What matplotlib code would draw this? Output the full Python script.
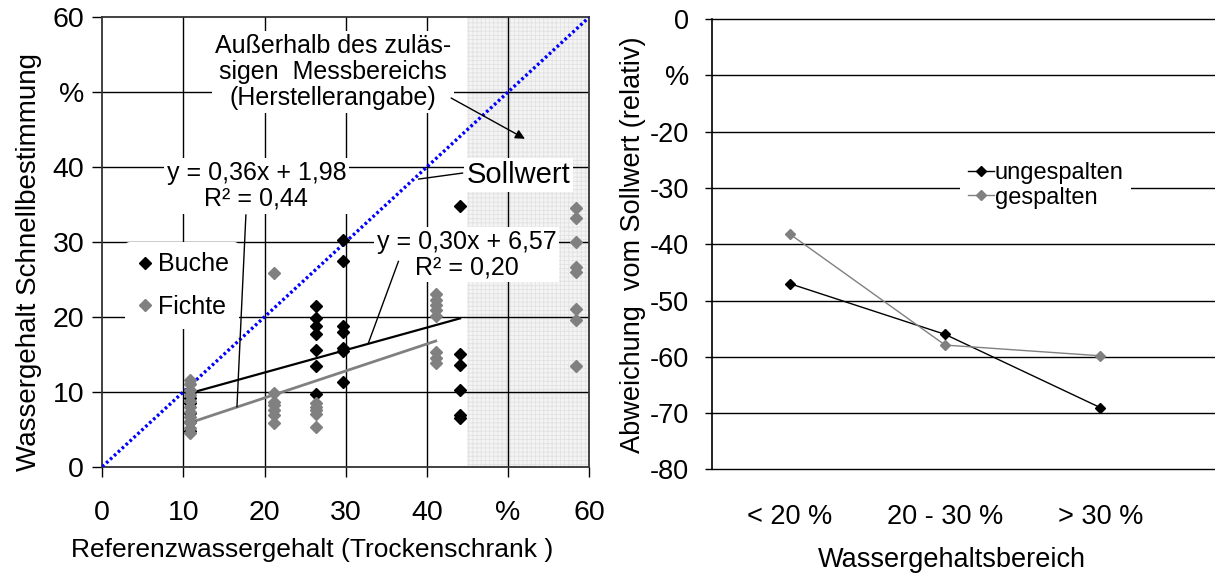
import matplotlib
matplotlib.use("Agg")
import matplotlib.pyplot as plt
from matplotlib.patches import Rectangle
import numpy as np

plt.rcParams['font.family'] = ['Liberation Sans', 'DejaVu Sans']
plt.rcParams['hatch.linewidth'] = 0.6

# left chart: Buche / Fichte, reference vs. quick measurement (%)
buche_x = [10.8] * 6 + [26.4] * 7 + [29.7] * 7 + [44.1] * 6
buche_y = [10.0, 9.2, 8.5, 7.1, 5.9, 4.8,
           21.5, 19.8, 18.8, 17.7, 15.6, 13.4, 9.7,
           30.2, 27.4, 18.8, 18.0, 15.9, 15.4, 11.3,
           34.8, 15.0, 13.6, 10.2, 6.9, 6.5]
fichte_x = [10.8] * 11 + [21.2] * 7 + [26.4] * 5 + [41.1] * 8 + [58.4] * 8
fichte_y = [11.6, 11.0, 10.3, 9.6, 8.8, 8.0, 7.3, 6.6, 5.9, 5.2, 4.5,
            25.9, 9.8, 8.7, 8.2, 7.6, 6.9, 5.8,
            8.5, 8.0, 7.6, 7.0, 5.3,
            23.1, 22.3, 21.6, 20.9, 20.1, 15.3, 14.5, 13.8,
            34.5, 33.2, 30.0, 26.7, 26.0, 21.1, 19.6, 13.4]
buche_fit = (0.30, 6.57)
fichte_fit = (0.36, 1.98)
messgrenze = 45  # upper end of the permitted measuring range
left_ticks = [0, 10, 20, 30, 40, 50, 60]
left_ticklabels = ['0', '10', '20', '30', '40', '%', '60']

# right chart: relative deviation from target value
bereiche = ['< 20 %', '20 - 30 %', '> 30 %']
ungespalten = [-47.0, -56.0, -69.0]
gespalten = [-38.2, -57.9, -59.8]
right_ticks = [0, -10, -20, -30, -40, -50, -60, -70, -80]
right_ticklabels = ['0', '%', '-20', '-30', '-40', '-50', '-60', '-70', '-80']

grau = '#808080'

fig = plt.figure(figsize=(12.15, 5.76), dpi=100)

# ---------------- left
ax = fig.add_axes([0.0842, 0.1898, 0.4006, 0.7802])
ax.set_xlim(0, 60)
ax.set_ylim(0, 60)
ax.add_patch(Rectangle((messgrenze, 0), 60 - messgrenze, 60, facecolor='#f4f4f4',
                       edgecolor='#e2e2e2', hatch='++++', lw=0, zorder=0))
for v in left_ticks[1:-1]:
    ax.axvline(v, color='black', lw=1, zorder=1)
    ax.axhline(v, color='black', lw=1, zorder=1)

ax.plot([0, 60], [0, 60], color='#0000ff', lw=2.4, linestyle=(0, (0.8, 0.8)), zorder=3)

bx = np.array([min(buche_x), max(x for x in buche_x if x < messgrenze)])
ax.plot(bx, buche_fit[0] * bx + buche_fit[1], color='black', lw=1.6, zorder=3)
fx = np.array([min(fichte_x), max(x for x in fichte_x if x < messgrenze)])
ax.plot(fx, fichte_fit[0] * fx + fichte_fit[1], color=grau, lw=2, zorder=3)

ax.plot(buche_x, buche_y, 'D', color='black', ms=6, ls='none', label='Buche', zorder=4)
ax.plot(fichte_x, fichte_y, 'D', color=grau, ms=6, ls='none', label='Fichte', zorder=4)

box = dict(facecolor='white', edgecolor='none', pad=2)
ax.text(28.4, 52.7, 'Außerhalb des zuläs-\nsigen  Messbereichs\n(Herstellerangabe)',
        ha='center', va='center', fontsize=18, linespacing=1.12, bbox=box, zorder=5)
ax.annotate('', xy=(52.4, 43.6), xytext=(42.7, 49.4),
            arrowprops=dict(arrowstyle='-|>', color='black', lw=1, mutation_scale=14), zorder=5)

ax.text(51.3, 38.9, 'Sollwert', ha='center', va='center', fontsize=21, bbox=box, zorder=5)
ax.plot([44.4, 39.0], [39.2, 38.4], color='black', lw=1, zorder=5)

ax.text(19.0, 37.5, 'y = 0,36x + 1,98\nR² = 0,44', ha='center', va='center',
        fontsize=18, linespacing=1.1, bbox=box, zorder=5)
ax.plot([17.7, 16.6], [33.6, 8.0], color='black', lw=1, zorder=5)

ax.text(44.9, 28.3, 'y = 0,30x + 6,57\nR² = 0,20', ha='center', va='center',
        fontsize=18, linespacing=1.1, bbox=box, zorder=5)
ax.plot([36.5, 32.8], [27.4, 16.5], color='black', lw=1, zorder=5)

leg = ax.legend(loc='upper left', bbox_to_anchor=(0.02, 0.527), fontsize=18,
                frameon=True, facecolor='white', edgecolor='none', framealpha=1,
                handlelength=0.8, handletextpad=0.15, labelspacing=0.75, borderpad=0.4)
leg.set_zorder(6)

ax.set_xticks(left_ticks)
ax.set_xticklabels(left_ticklabels)
ax.set_yticks(left_ticks)
ax.set_yticklabels(left_ticklabels)
ax.tick_params(axis='x', direction='out', length=7, width=1, labelsize=20.5, pad=17)
ax.tick_params(axis='y', direction='out', length=7, width=1, labelsize=20.5, pad=6)
for s in ax.spines.values():
    s.set_color('#333333')
    s.set_linewidth(1.3)
ax.set_xlabel('Referenzwassergehalt (Trockenschrank )', fontsize=19)
ax.xaxis.set_label_coords(0.431, -0.159)
ax.set_ylabel('Wassergehalt Schnellbestimmung', fontsize=20)
ax.yaxis.set_label_coords(-0.124, 0.455)

# ---------------- right
ax2 = fig.add_axes([0.5864, 0.1849, 0.4136, 0.7819])
pos = np.arange(len(bereiche))
ax2.set_xlim(-0.5, 2.74)
ax2.set_ylim(-80, 0)
for v in right_ticks:
    ax2.axhline(v, color='black', lw=1, zorder=1, clip_on=False)
ax2.plot(pos, ungespalten, color='black', lw=1, marker='D', ms=5.5, label='ungespalten', zorder=3)
ax2.plot(pos, gespalten, color=grau, lw=1, marker='D', ms=5.5, label='gespalten', zorder=3)

leg2 = ax2.legend(loc='upper left', bbox_to_anchor=(0.47, 0.725), fontsize=17,
                  frameon=True, facecolor='white', edgecolor='none', framealpha=1,
                  handlelength=1.1, handletextpad=0.05, labelspacing=0.12, borderpad=0.3)
leg2.set_zorder(6)

ax2.set_xticks(pos)
ax2.set_xticklabels(bereiche)
ax2.set_yticks(right_ticks)
ax2.set_yticklabels(right_ticklabels)
ax2.tick_params(axis='x', length=0, labelsize=19.5, pad=25)
ax2.tick_params(axis='y', direction='out', length=5, width=1, labelsize=19.5, pad=12)
for side in ['top', 'right', 'bottom']:
    ax2.spines[side].set_visible(False)
ax2.spines['left'].set_linewidth(1.2)
ax2.set_xlabel('Wassergehaltsbereich', fontsize=19.5)
ax2.xaxis.set_label_coords(0.477, -0.172)
ax2.set_ylabel('Abweichung  vom Sollwert (relativ)', fontsize=19.5)
ax2.yaxis.set_label_coords(-0.132, 0.5)

fig.savefig('out.png', dpi=100)
